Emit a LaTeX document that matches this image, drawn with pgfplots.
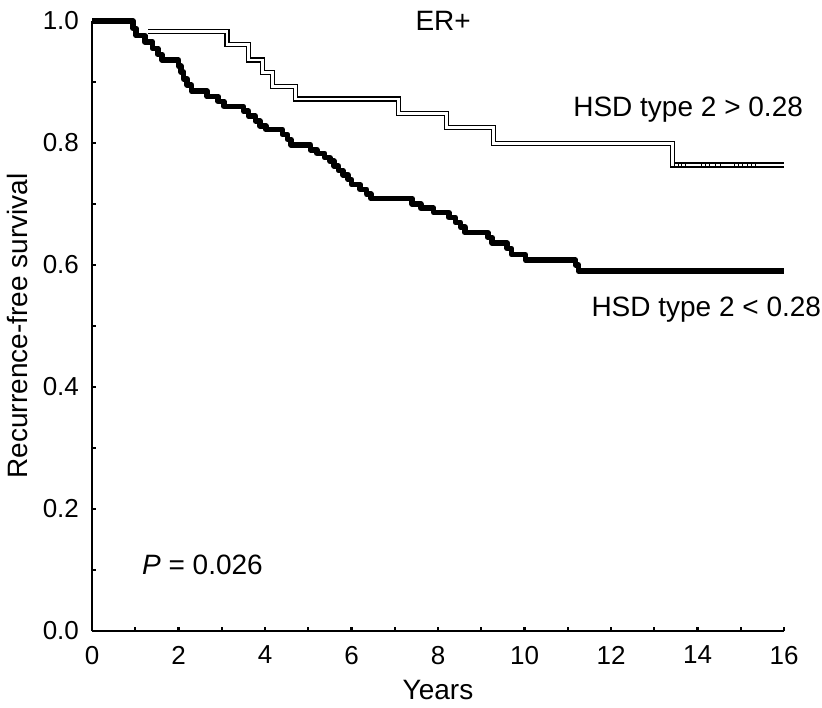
\documentclass[border=0pt]{standalone}
\usepackage{fontspec}
\setmainfont{Liberation Sans}
\usepackage{pgfplots}
\pgfplotsset{compat=1.18}

% Kaplan-Meier estimates (const plot, value holds from t on)
\pgfplotstableread{
t     s
0.00  1.000
0.95  0.988
1.02  0.976
1.22  0.966
1.40  0.955
1.52  0.945
1.62  0.936
2.00  0.926
2.06  0.916
2.12  0.905
2.20  0.895
2.30  0.885
2.66  0.876
2.92  0.868
3.05  0.860
3.50  0.852
3.62  0.844
3.78  0.836
3.88  0.828
4.02  0.822
4.40  0.814
4.52  0.806
4.60  0.797
5.05  0.789
5.20  0.783
5.38  0.776
5.50  0.770
5.60  0.762
5.70  0.755
5.80  0.748
5.92  0.740
6.00  0.732
6.20  0.724
6.35  0.716
6.45  0.709
7.40  0.700
7.60  0.693
7.90  0.686
8.25  0.678
8.40  0.670
8.52  0.662
8.62  0.653
9.15  0.645
9.25  0.636
9.60  0.627
9.70  0.617
10.02 0.608
11.18 0.600
11.25 0.590
16.00 0.590
}\lowhsd

\pgfplotstableread{
t     s
1.30  0.983
3.12  0.961
3.62  0.936
3.94  0.915
4.17  0.893
4.70  0.872
7.08  0.848
8.20  0.825
9.28  0.799
13.43 0.764
16.00 0.764
}\highhsd

\begin{document}
\begin{tikzpicture}
\begin{axis}[
    scale only axis,
    width=346pt, height=305pt,
    xmin=0, xmax=16, ymin=0, ymax=1,
    axis lines=left,
    axis line style={line width=1.3pt, -},
    clip=false,
    tick align=inside,
    major tick length=2.2pt, minor tick length=2.2pt,
    every tick/.style={black, line width=1.2pt},
    xtick={0,2,...,16}, minor x tick num=1,
    ytick={0,0.2,...,1.0}, minor y tick num=1,
    yticklabel style={/pgf/number format/fixed, /pgf/number format/fixed zerofill,
                      /pgf/number format/precision=1, xshift=-3pt},
    /pgf/number format/assume math mode=true,
    every tick label/.append style={font=\fontsize{13}{15}\selectfont},
    xticklabel style={yshift=-4pt},
    xlabel={Years}, ylabel={Recurrence-free survival},
    label style={font=\fontsize{14}{16}\selectfont},
    xlabel style={at={(axis description cs:0.5,-0.097)}, anchor=center},
    ylabel style={at={(axis description cs:-0.107,0.5)}, anchor=center},
]
\coordinate (sw) at (rel axis cs:0,0);
\coordinate (ne) at (rel axis cs:1,1);

\addplot[const plot mark left, draw=black, line width=0.6pt,
         double=white, double distance=1.4pt] table[x=t, y=s] {\highhsd};
\addplot[only marks, mark=|, mark size=1.3pt, mark options={line width=0.45pt}]
    coordinates {(13.47,0.764) (13.55,0.764) (13.63,0.764) (13.72,0.764)
                 (14.08,0.764) (14.18,0.764) (14.28,0.764) (14.42,0.764) (14.52,0.764)
                 (14.85,0.764) (14.95,0.764) (15.05,0.764) (15.15,0.764) (15.25,0.764) (15.35,0.764)};
\addplot[const plot mark left, black, line width=2.8pt, line join=round]
    table[x=t, y=s] {\lowhsd};

\node[font=\fontsize{14}{16}\selectfont, inner sep=0pt] at (axis cs:8.12,1.0) {ER+};
\node[font=\fontsize{14}{16}\selectfont, inner sep=0pt, anchor=base west]
    at (axis cs:11.12,0.843) {HSD type 2 > 0.28};
\node[font=\fontsize{14}{16}\selectfont, inner sep=0pt, anchor=base west]
    at (axis cs:11.54,0.515) {HSD type 2 < 0.28};
\node[font=\fontsize{14}{16}\selectfont, inner sep=0pt, anchor=base west]
    at (axis cs:1.15,0.093) {\textit{P} = 0.026};
\end{axis}
\pgfresetboundingbox
\path[use as bounding box] ([shift={(-46pt,-38pt)}]sw) rectangle ([shift={(19pt,10.5pt)}]ne);
\end{tikzpicture}
\end{document}
